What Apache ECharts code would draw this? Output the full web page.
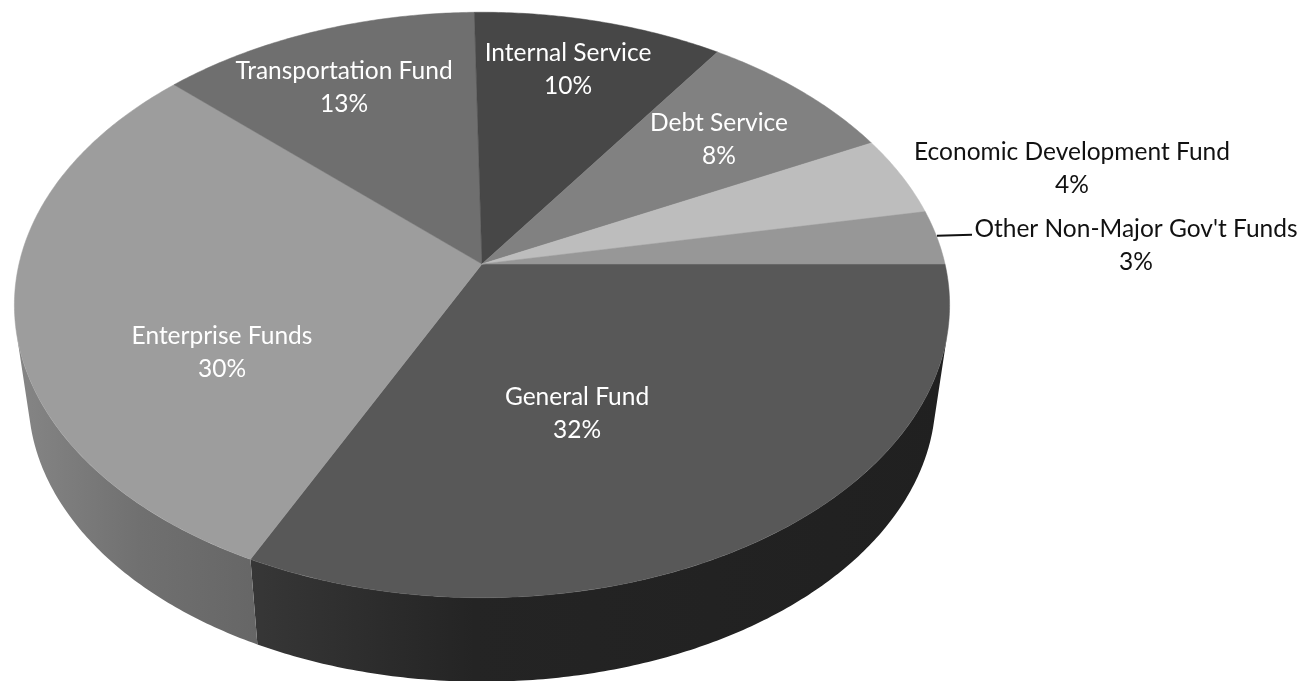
<!DOCTYPE html>
<html>
<head>
<meta charset="utf-8">
<title>Funds pie</title>
<style>html,body{margin:0;padding:0;background:#fff}#chart{width:1312px;height:681px}</style>
<script src="https://cdn.jsdelivr.net/npm/echarts@6/dist/echarts.min.js"></script>
</head>
<body>
<div id="chart"></div>
<script>
// Data, in drawing order, clockwise from 3 o'clock
const categories = ['General Fund', 'Enterprise Funds', 'Transportation Fund', 'Internal Service', 'Debt Service', 'Economic Development Fund', "Other Non-Major Gov't Funds"];
const shares = [32.2, 29.8, 12.7, 9.9, 8.0, 4.4, 3.0];

// Styles and layout, separate from the data
const topColors = ['#585858', '#9d9d9d', '#6f6f6f', '#474747', '#818181', '#bdbdbd', '#979797'];
const labelColors = ['#fff', '#fff', '#fff', '#fff', '#fff', '#111', '#111'];
const labelPos = [[577, 414], [222, 353], [344, 88], [568, 70], [719, 140], [1072, 169], [1136, 246]];
const view = {cx: 482, cy: 264, R: 463, S: 287, k: 0.14, lowScale: 0.97, drop: 94};
const FONT = 'Lato, "Open Sans", sans-serif';
const total = shares.reduce((a, b) => a + b, 0);

function project(t, low) {
  const u = Math.cos(t), v = Math.sin(t), w = 1 - view.k * v;
  const s = low ? view.lowScale : 1;
  return [view.cx + s * view.R * u / w, view.cy + (low ? view.drop : 0) + s * view.S * v / w];
}
function angles(i) {
  let before = 0;
  for (let j = 0; j < i; j++) before += shares[j];
  return [before / total * 2 * Math.PI, (before + shares[i]) / total * 2 * Math.PI];
}
function arc(a0, a1, low) {
  const n = Math.max(4, Math.ceil((a1 - a0) / 0.01));
  const pts = [];
  for (let i = 0; i <= n; i++) pts.push(project(a0 + (a1 - a0) * i / n, low));
  return pts;
}
// The wall is visible where the rim runs against the drop direction; the
// range ends are the silhouette tangents joining the upper and lower discs.
function wallVisible(t) {
  const p = project(t, false), q = project(t + 0.001, false), l = project(t, true);
  return (q[0] - p[0]) * (l[1] - p[1]) - (q[1] - p[1]) * (l[0] - p[0]) < 0;
}
const wall = (function () {
  let start = null, end = null;
  for (let t = -Math.PI / 2; t < Math.PI * 3 / 2; t += 0.001) {
    if (wallVisible(t)) { if (start === null) start = t; end = t; }
  }
  return [start, end];
})();
function sideFill(i) {
  if (i === 0) {
    return new echarts.graphic.LinearGradient(250, 0, 950, 0, [
      {offset: 0, color: '#373737'}, {offset: 0.32, color: '#242424'}, {offset: 1, color: '#202020'}
    ], true);
  }
  if (i === 1) {
    return new echarts.graphic.LinearGradient(20, 0, 260, 0, [
      {offset: 0, color: '#858585'}, {offset: 0.5, color: '#707070'}, {offset: 1, color: '#666666'}
    ], true);
  }
  return topColors[i];
}
const chart = echarts.init(document.getElementById('chart'), null, {renderer: 'canvas'});
chart.setOption({
  animation: false,
  backgroundColor: '#fff',
  series: [
    {
      type: 'custom', coordinateSystem: 'none', silent: true, data: shares,
      renderItem(params) {
        const i = params.dataIndex, [a0, a1] = angles(i);
        const b0 = Math.max(a0, wall[0]), b1 = Math.min(a1, wall[1]);
        if (b1 <= b0) return null;
        const points = arc(b0, b1, false).concat(arc(b0, b1, true).reverse());
        return {type: 'polygon', shape: {points}, style: {fill: sideFill(i)}};
      }
    },
    {
      type: 'custom', coordinateSystem: 'none', silent: true, data: shares,
      renderItem(params, api) {
        const i = params.dataIndex, [a0, a1] = angles(i);
        const points = [[view.cx, view.cy]].concat(arc(a0, a1, false));
        return {type: 'polygon', shape: {points}, style: {fill: topColors[i], stroke: topColors[i], lineWidth: 0.5}};
      }
    },
    {
      type: 'custom', coordinateSystem: 'none', silent: true, data: shares,
      renderItem(params, api) {
        const i = params.dataIndex, [a0, a1] = angles(i);
        const children = [{
          type: 'text', x: labelPos[i][0], y: labelPos[i][1],
          style: {
            text: categories[i] + '\n' + Math.round(api.value(0)) + '%',
            fill: labelColors[i], font: '24.5px ' + FONT, lineHeight: 33,
            align: 'center', verticalAlign: 'middle'
          }
        }];
        if (i === categories.length - 1) {
          const p = project((a0 + a1) / 2, false);
          children.push({
            type: 'line', shape: {x1: p[0], y1: p[1] - 1.5, x2: 972, y2: p[1] - 2.5},
            style: {stroke: '#111', lineWidth: 2}
          });
        }
        return {type: 'group', children};
      }
    }
  ]
});
</script>
</body>
</html>
